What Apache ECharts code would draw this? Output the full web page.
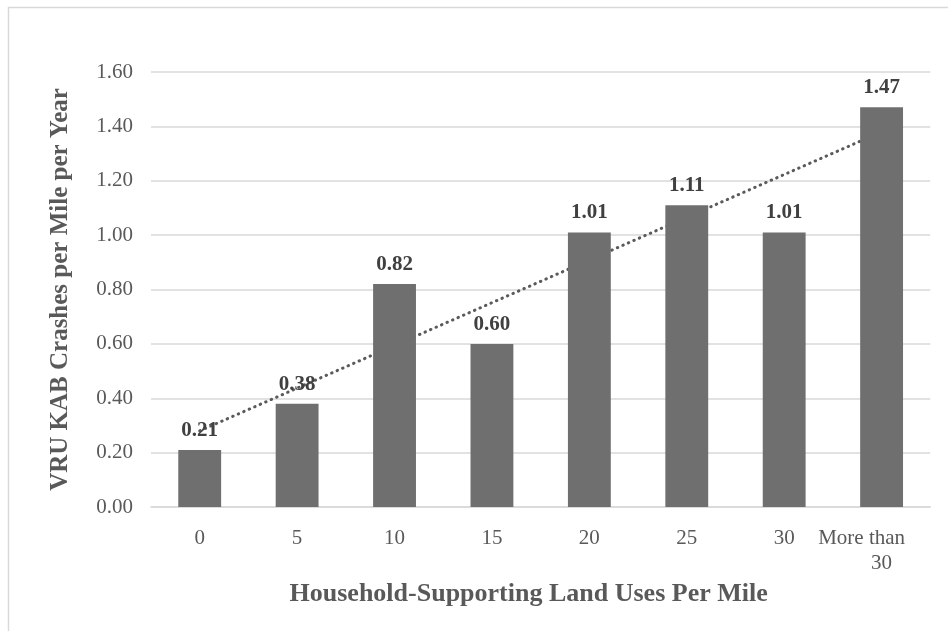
<!DOCTYPE html>
<html>
<head>
<meta charset="utf-8">
<script src="https://cdn.jsdelivr.net/npm/echarts@6/dist/echarts.min.js"></script>
<style>
html,body{margin:0;padding:0;background:#fff;}
#chart{width:948px;height:631px;}
</style>
</head>
<body>
<div id="chart"></div>
<script>
var categories = ['0', '5', '10', '15', '20', '25', '30', 'More than\n30'];
var values = [0.21, 0.38, 0.82, 0.60, 1.01, 1.11, 1.01, 1.47];
var trendValues = [0.28, null, null, null, null, null, null, 1.38];
var yTicks = [0, 0.2, 0.4, 0.6, 0.8, 1.0, 1.2, 1.4, 1.6];

var serif = '"Liberation Serif", "Times New Roman", serif';
var chart = echarts.init(document.getElementById('chart'), null, {renderer: 'canvas'});
chart.setOption({
  animation: false,
  backgroundColor: '#ffffff',
  graphic: [{
    type: 'rect', silent: true, z: -1,
    shape: {x: 8.5, y: 7.5, width: 1000, height: 1000},
    style: {fill: 'none', stroke: '#d9d9d9', lineWidth: 1.5}
  }],
  grid: {left: 151, right: 17, top: 72, bottom: 124},
  xAxis: {
    type: 'category',
    data: categories,
    name: 'Household-Supporting Land Uses Per Mile',
    nameLocation: 'middle',
    nameGap: 70,
    nameTextStyle: {fontFamily: serif, fontWeight: 'bold', fontSize: 26, color: '#595959', padding: [0, 24, 0, 0]},
    axisLine: {lineStyle: {color: '#d9d9d9', width: 1.5}},
    axisTick: {show: false},
    axisLabel: {
      fontFamily: serif, fontSize: 21, color: '#595959', margin: 19, lineHeight: 25, interval: 0,
      formatter: function (v) {
        var parts = v.split('\n');
        if (parts.length > 1) return '{a|' + parts[0] + '}\n{b|' + parts[1] + '}';
        return v;
      },
      rich: {
        a: {fontFamily: serif, fontSize: 21, color: '#595959', lineHeight: 25, padding: [0, 40, 0, 0]},
        b: {fontFamily: serif, fontSize: 21, color: '#595959', lineHeight: 25}
      }
    }
  },
  yAxis: {
    type: 'value',
    min: 0, max: 1.6, interval: 0.2,
    name: 'VRU KAB Crashes per Mile per Year',
    nameLocation: 'middle',
    nameGap: 78,
    nameTextStyle: {fontFamily: serif, fontWeight: 'bold', fontSize: 25, color: '#595959'},
    splitLine: {lineStyle: {color: '#d9d9d9', width: 1.5}},
    axisLine: {show: false},
    axisTick: {show: false},
    axisLabel: {fontFamily: serif, fontSize: 21, color: '#595959', margin: 18,
      formatter: function (v) { return v.toFixed(2); }}
  },
  series: [{
    type: 'line',
    data: trendValues,
    connectNulls: true,
    symbol: 'none',
    lineStyle: {color: '#5a5a5a', width: 3, type: [0.5, 5.5], cap: 'round'},
    z: 1
  }, {
    type: 'bar',
    data: values,
    barWidth: '44%',
    itemStyle: {color: '#6f6f6f'},
    label: {
      show: true, position: 'top', distance: 9,
      fontFamily: serif, fontWeight: 'bold', fontSize: 21, color: '#404040',
      formatter: function (p) { return p.value.toFixed(2); }
    },
    z: 2
  }]
});
</script>
</body>
</html>
